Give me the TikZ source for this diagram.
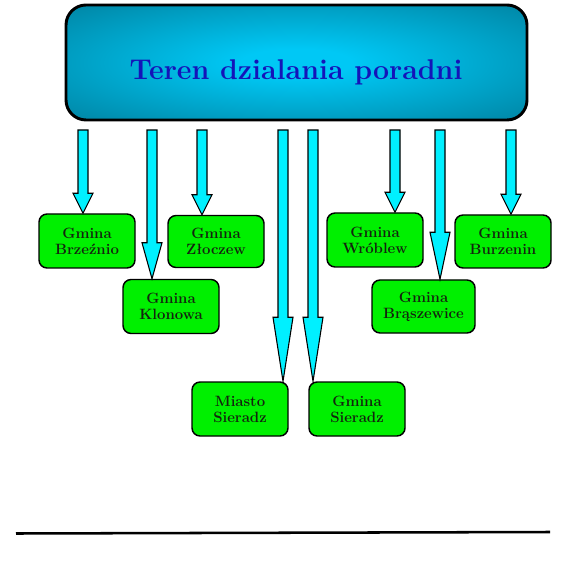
\documentclass[tikz,border=0pt]{standalone}
\usetikzlibrary{calc}
\definecolor{tealin}{RGB}{0,200,245}
\definecolor{tealmid}{RGB}{0,128,158}
\definecolor{tealout}{RGB}{0,108,138}
\definecolor{arrcyan}{RGB}{0,240,255}
\definecolor{boxgreen}{RGB}{0,240,0}
\definecolor{titleblue}{RGB}{20,20,185}
\definecolor{boxtext}{RGB}{20,35,15}
\pgfdeclareradialshading{topsh}{\pgfpoint{0bp}{0bp}}{color(0bp)=(tealin); color(6bp)=(tealin); color(38bp)=(tealmid); color(50bp)=(tealout); color(80bp)=(tealout)}
\tikzset{
  topbox/.style={draw=black, line width=2.2pt, rounded corners=15pt, shading=topsh, minimum width=#1, minimum height=86.25pt, inner sep=0pt},
  gbox/.style={draw=black, line width=1.1pt, fill=boxgreen, rounded corners=6pt, minimum width=#1, minimum height=40.5pt, inner sep=0pt, align=center, text=boxtext, font=\fontsize{11.2}{12}\selectfont\bfseries},
  gbox/.default=72pt,
  arrstyle/.style={draw=black, line width=0.8pt, fill=arrcyan, line join=miter},
  titletext/.style={text=titleblue, font=\fontsize{21.4}{24}\selectfont\bfseries, inner sep=0pt}
}
\newcommand\blockarr[3]{%
  \path (#1,130) coordinate (s) (s |- #2.north) coordinate (t);
  \draw[arrstyle] ($(s)+(-5,0)$) -- ($(s)+(5,0)$) -- ($(t)+(5,-#3)$) -- ($(t)+(10,-#3)$) -- (t) -- ($(t)+(-10,-#3)$) -- ($(t)+(-5,-#3)$) -- cycle;
}
\begin{document}
\begin{tikzpicture}[x=0.75pt,y=-0.75pt]
\useasboundingbox (0,0) rectangle (588,584);
\node[topbox=345.75pt] (top) at (296.5,62.5) {};
\node[titletext, anchor=base] (title) at (296,80) {Teren dzialania poradni};

\node[gbox] (brz) at (87,241) {Gmina\\Brzeźnio};
\node[gbox, minimum height=39pt] (zlo) at (216,241.5) {Gmina\\Złoczew};
\node[gbox] (kl) at (171,306.5) {Gmina\\Klonowa};
\node[gbox] (wro) at (375,240) {Gmina\\Wróblew};
\node[gbox, minimum height=39.75pt] (bur) at (503,241.5) {Gmina\\Burzenin};
\node[gbox=77.25pt, minimum height=39.75pt] (bra) at (423.5,306.5) {Gmina\\Brąszewice};
\node[gbox] (ms) at (240,409) {Miasto\\Sieradz};
\node[gbox] (gs) at (357,409) {Gmina\\Sieradz};

\blockarr{83}{brz}{20}
\blockarr{152}{kl}{36}
\blockarr{202}{zlo}{20}
\blockarr{283}{ms}{64}
\blockarr{313}{gs}{64}
\blockarr{395}{wro}{20}
\blockarr{440}{bra}{47}
\blockarr{511}{bur}{20}

\coordinate (l1) at (16,533.5);
\coordinate (l2) at (550,532);
\draw[line width=1.9pt] (l1) -- (l2);
\end{tikzpicture}
\end{document}
